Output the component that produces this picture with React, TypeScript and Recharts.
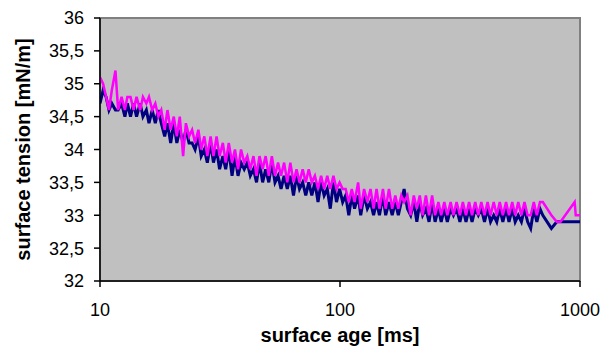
import { Label, Line, LineChart, ReferenceArea, XAxis, YAxis } from "recharts";

// surface age [ms]
const ages = [
  10, 10.3, 10.6, 10.9, 11.2, 11.6, 11.9, 12.3, 12.7, 13.0,
  13.4, 13.8, 14.2, 14.7, 15.1, 15.6, 16.0, 16.5, 17.0, 17.5,
  18.0, 18.6, 19.1, 19.7, 20.3, 20.9, 21.5, 22.2, 22.8, 23.5,
  24.2, 24.9, 25.7, 26.4, 27.2, 28.0, 28.9, 29.7, 30.6, 31.5,
  32.5, 33.4, 34.4, 35.5, 36.5, 37.6, 38.7, 39.9, 41.1, 42.3,
  43.6, 44.9, 46.2, 47.6, 49.0, 50.5, 52.0, 53.6, 55.2, 56.8,
  58.5, 60.3, 62.1, 64.0, 65.9, 67.8, 69.9, 72.0, 74.1, 76.3,
  78.6, 81.0, 83.4, 85.9, 88.5, 91.1, 93.9, 96.7, 99.6, 102.6,
  105.6, 108.8, 112, 115, 119, 122, 126, 130, 134, 138,
  142, 146, 151, 155, 160, 165, 170, 175, 180, 185,
  191, 197, 203, 209, 215, 221, 228, 235, 242, 249,
  257, 264, 272, 280, 289, 297, 306, 316, 325, 335,
  345, 355, 366, 377, 388, 400, 412, 424, 437, 450,
  463, 477, 492, 506, 522, 537, 553, 570, 587, 605,
  623, 642, 661, 681, 700, 760, 800, 830, 950, 960,
  1000,
];

// surface tension [mN/m], first run (navy)
const tensionNavy = [
  34.7, 34.9, 34.8, 34.6, 34.7, 34.6, 34.6, 34.7, 34.5, 34.7,
  34.5, 34.7, 34.5, 34.7, 34.5, 34.6, 34.4, 34.6, 34.4, 34.6,
  34.4, 34.2, 34.4, 34.1, 34.4, 34.1, 34.3, 34.1, 34.3, 34.1,
  34.1, 34.0, 34.2, 33.9, 34.0, 33.8, 34.1, 33.8, 34.0, 33.7,
  33.9, 33.7, 34.0, 33.6, 33.9, 33.6, 33.8, 33.7, 33.8, 33.6,
  33.7, 33.5, 33.8, 33.5, 33.7, 33.5, 33.8, 33.5, 33.6, 33.4,
  33.6, 33.4, 33.6, 33.3, 33.6, 33.4, 33.5, 33.3, 33.5, 33.3,
  33.5, 33.2, 33.5, 33.3, 33.4, 33.1, 33.5, 33.2, 33.4, 33.2,
  33.3, 33.0, 33.3, 33.1, 33.3, 33.0, 33.3, 33.1, 33.2, 33.0,
  33.2, 33.0, 33.3, 33.0, 33.2, 33.0, 33.2, 33.0, 33.2, 33.4,
  33.1, 33.0, 33.2, 32.9, 33.2, 33.0, 33.1, 32.9, 33.2, 32.9,
  33.1, 32.9, 33.1, 32.9, 33.1, 33.0, 33.1, 32.9, 33.1, 32.9,
  33.1, 32.9, 33.1, 33.0, 33.1, 32.9, 33.1, 32.9, 33.0, 32.9,
  33.1, 32.9, 33.1, 32.9, 33.1, 32.9, 33.0, 32.9, 33.1, 32.9,
  32.8, 33.1, 32.9, 33.1, 33.0, 32.8, 32.9, 32.9, 32.9, 32.9,
  32.9,
];

// surface tension [mN/m], second run (magenta)
const tensionMagenta = [
  35.1, 35.0, 34.8, 34.6, 34.9, 35.2, 34.6, 34.8, 34.6, 34.8,
  34.8, 34.6, 34.8, 34.6, 34.8, 34.7, 34.8, 34.6, 34.7, 34.5,
  34.6, 34.3, 34.6, 34.3, 34.5, 34.2, 34.5, 33.9, 34.4, 34.2,
  34.3, 34.1, 34.3, 34.0, 34.2, 33.9, 34.2, 33.9, 34.2, 33.9,
  34.1, 33.8, 34.1, 33.8, 34.0, 33.7, 34.0, 33.8, 33.9, 33.7,
  33.9, 33.6, 33.9, 33.7, 33.9, 33.6, 33.9, 33.6, 33.8, 33.6,
  33.8, 33.5, 33.8, 33.5, 33.7, 33.5, 33.7, 33.5, 33.7, 33.5,
  33.6, 33.4, 33.6, 33.4, 33.6, 33.4, 33.6, 33.4, 33.5, 33.4,
  33.4, 33.2, 33.4, 33.2, 33.5, 33.1, 33.4, 33.2, 33.4, 33.1,
  33.4, 33.1, 33.4, 33.1, 33.4, 33.1, 33.3, 33.1, 33.3, 33.2,
  33.3, 33.0, 33.3, 33.1, 33.3, 33.0, 33.3, 33.0, 33.3, 33.0,
  33.2, 33.0, 33.2, 33.0, 33.2, 33.0, 33.2, 33.0, 33.2, 33.0,
  33.2, 33.0, 33.2, 33.0, 33.2, 33.0, 33.2, 33.0, 33.2, 33.0,
  33.2, 33.0, 33.2, 33.0, 33.2, 33.0, 33.2, 33.0, 33.2, 33.0,
  33.0, 33.2, 33.0, 33.2, 33.2, 33.0, 32.9, 32.9, 33.2, 33.0,
  33.0,
];

const xTicks = [10, 100, 1000];
const yTicks = [32, 32.5, 33, 33.5, 34, 34.5, 35, 35.5, 36];

const FONT = "'Liberation Sans', Arial, sans-serif";

export default function App() {
  const data = ages.map((age, i) => ({ age, navy: tensionNavy[i], magenta: tensionMagenta[i] }));

  return (
    <div style={{ position: "absolute", left: 0, top: 0, width: 604, height: 349, background: "#fff" }}>
      <LineChart
        width={604}
        height={349}
        data={data}
        margin={{ top: 18, right: 24, bottom: 0, left: 0 }}
        style={{ fontFamily: FONT }}
      >
        <ReferenceArea
          x1={10}
          x2={1000}
          y1={32}
          y2={36}
          fill="#c0c0c0"
          fillOpacity={1}
          stroke="#808080"
          strokeWidth={2}
        />
        <XAxis
          dataKey="age"
          type="number"
          scale="log"
          domain={[10, 1000]}
          ticks={xTicks}
          allowDataOverflow
          height={68}
          tickSize={6}
          tickMargin={16}
          stroke="#000"
          strokeWidth={1.5}
          tick={{ fill: "#000", fontSize: 18 }}
        >
          <Label
            value="surface age [ms]"
            position="insideBottom"
            offset={7}
            fill="#000"
            style={{ fontSize: 20, fontWeight: "bold" }}
          />
        </XAxis>
        <YAxis
          type="number"
          domain={[32, 36]}
          ticks={yTicks}
          allowDataOverflow
          width={100}
          tickSize={6}
          tickMargin={10}
          stroke="#000"
          strokeWidth={1.5}
          tick={{ fill: "#000", fontSize: 18 }}
          tickFormatter={(v: number) => String(v).replace(".", ",")}
        >
          <Label
            value="surface tension [mN/m]"
            position="insideLeft"
            angle={-90}
            offset={23}
            fill="#000"
            style={{ fontSize: 20, fontWeight: "bold", textAnchor: "middle" }}
          />
        </YAxis>
        <Line
          type="linear"
          dataKey="navy"
          stroke="#000080"
          strokeWidth={3}
          dot={false}
          isAnimationActive={false}
        />
        <Line
          type="linear"
          dataKey="magenta"
          stroke="#ff00ff"
          strokeWidth={2.5}
          dot={false}
          isAnimationActive={false}
        />
      </LineChart>
    </div>
  );
}
